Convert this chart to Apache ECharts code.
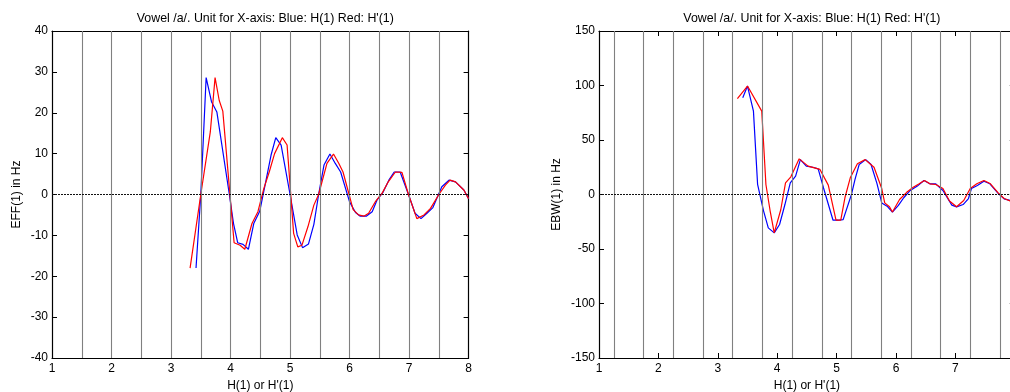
<!DOCTYPE html>
<html>
<head>
<meta charset="utf-8">
<script src="https://cdn.jsdelivr.net/npm/echarts@6/dist/echarts.min.js"></script>
<style>
  html, body { margin: 0; padding: 0; background: #fff; }
  #chart { width: 1010px; height: 392px; }
</style>
</head>
<body>
<div id="chart"></div>
<script>
// x ticks and grid positions
const xTicks = [1, 2, 3, 4, 5, 6, 7, 8]
const effGridX = [1.5, 2, 2.5, 3, 3.5, 4, 4.5, 5, 5.5, 6, 6.5, 7, 7.5]
const ebwGridX = [1.25, 1.75, 2.25, 2.75, 3.25, 3.75, 4.25, 4.75, 5.25, 5.75, 6.25, 6.75, 7.25, 7.75]

// left panel: EFF(1)
const effBlueX = [3.42, 3.50, 3.59, 3.68, 3.77, 3.98, 4.05, 4.12, 4.21, 4.30, 4.39, 4.49, 4.58, 4.68, 4.76, 4.85, 5.00, 5.12, 5.21, 5.31, 5.40, 5.48, 5.57, 5.67, 5.76, 5.85, 6.00, 6.10, 6.18, 6.28, 6.38, 6.46, 6.56, 6.66, 6.75, 6.85, 6.99, 7.10, 7.20, 7.30, 7.40, 7.55, 7.67, 7.78, 7.92, 8.00]
const effBlueY = [-18, 0, 28.6, 22.7, 20.2, 0, -7.1, -11.8, -12.2, -13.4, -7.1, -4.1, 2.3, 9.6, 13.9, 12.1, 0, -9.9, -13, -12.1, -7.3, 0, 7.2, 9.9, 7.6, 5.5, -1.8, -4.4, -5.3, -5.3, -4.2, -1.4, 0.5, 3.5, 5.5, 5.5, 0, -4.6, -5.9, -4.6, -3.2, 1.9, 3.5, 3.1, 1.1, -1]
const effRedX = [3.32, 3.50, 3.66, 3.74, 3.81, 3.87, 3.99, 4.06, 4.16, 4.24, 4.36, 4.46, 4.56, 4.65, 4.74, 4.87, 4.95, 5.06, 5.13, 5.20, 5.30, 5.40, 5.48, 5.62, 5.73, 5.82, 5.89, 6.06, 6.15, 6.24, 6.32, 6.44, 6.55, 6.65, 6.77, 6.88, 6.99, 7.13, 7.25, 7.36, 7.50, 7.61, 7.69, 7.78, 7.92, 8.00]
const effRedY = [-18, 0, 15.3, 28.6, 23, 20.4, 0, -11.8, -12.4, -13.4, -7.1, -4.2, 1.5, 5.5, 10, 13.9, 12.1, -9.5, -12.8, -12.4, -7.9, -2.6, 0, 7.6, 9.9, 7.6, 5.5, -3.7, -5, -5.3, -4.6, -1.6, 0.4, 3.1, 5.5, 5.4, 0, -5.9, -5, -3.4, 0, 2.3, 3.5, 3.1, 1.1, -1]

// right panel: EBW(1)
const ebwBlueX = [3.42, 3.50, 3.60, 3.67, 3.77, 3.85, 3.95, 4.04, 4.13, 4.22, 4.31, 4.39, 4.49, 4.60, 4.69, 4.78, 4.94, 5.03, 5.11, 5.25, 5.31, 5.38, 5.49, 5.58, 5.68, 5.76, 5.85, 5.94, 6.04, 6.13, 6.24, 6.36, 6.47, 6.57, 6.67, 6.79, 6.94, 7.02, 7.13, 7.22, 7.27, 7.37, 7.48, 7.58, 7.72, 7.82, 7.92, 8.00]
const ebwBlueY = [88.8, 99.5, 76.5, 9.2, -15, -30.6, -35.2, -27.5, -9.2, 10.7, 16.8, 32, 26, 25, 23.5, 6, -23.6, -23.6, -23, 0, 13.8, 27.5, 32, 27.5, 10, -7.7, -10.7, -16.2, -10, -3, 3.7, 7.7, 12.9, 9.8, 9.8, 3.7, -9.8, -11.3, -9.2, -3.7, 5.5, 8.3, 12.2, 9.8, 1, -4, -5.5, -5.8]
const ebwRedX = [3.33, 3.50, 3.74, 3.81, 3.88, 3.95, 4.06, 4.14, 4.23, 4.37, 4.52, 4.72, 4.86, 4.99, 5.07, 5.14, 5.23, 5.35, 5.48, 5.63, 5.76, 5.81, 5.89, 5.94, 6.06, 6.18, 6.29, 6.39, 6.48, 6.57, 6.67, 6.79, 6.90, 7.02, 7.14, 7.25, 7.36, 7.48, 7.59, 7.72, 7.82, 7.92, 8.00]
const ebwRedY = [88, 99.5, 76.5, 9.2, -14.7, -35.2, -14, 10.7, 16.2, 32.7, 26, 23, 8.6, -23.6, -23.6, -3, 15.3, 28.2, 32, 25, 5.5, -7.7, -11.3, -16, -4.6, 2, 6.7, 9.8, 12.9, 9.8, 9.2, 5.5, -6, -11.3, -5.5, 5.5, 9.8, 12.9, 9.8, 1.5, -3.7, -6, -6.2]

const titleText = "Vowel /a/. Unit for X-axis: Blue: H(1) Red: H'(1)"
const xName = "H(1) or H'(1)"
const font = "Liberation Sans, Arial, sans-serif"

const zip = (xs, ys) => xs.map((x, i) => [x, ys[i]])

const panels = [
  { left: 52, width: 416.6, yMin: -40, yMax: 40, yStep: 10, yName: "EFF(1) in Hz", nameGap: 29,
    gridX: effGridX, blue: zip(effBlueX, effBlueY), red: zip(effRedX, effRedY) },
  { left: 599, width: 415.8, yMin: -150, yMax: 150, yStep: 50, yName: "EBW(1) in Hz", nameGap: 36,
    gridX: ebwGridX, blue: zip(ebwBlueX, ebwBlueY), red: zip(ebwRedX, ebwRedY) }
]

const axisLine = { show: true, onZero: false, lineStyle: { color: "#000", width: 1.2 } }
const tickIn = { show: true, inside: true, length: 5, lineStyle: { color: "#000" } }
const labelStyle = { color: "#000", fontSize: 12, fontFamily: font }
const nameStyle = { color: "#000", fontSize: 12, fontFamily: font }

const grid = [], xAxis = [], yAxis = [], series = [], title = []

panels.forEach((p, i) => {
  grid.push({ left: p.left, width: p.width, top: 31, height: 327, containLabel: false, outerBoundsMode: "none" })
  title.push({
    text: titleText, left: p.left + p.width / 2, top: 8, textAlign: "center",
    textStyle: { color: "#000", fontSize: 12.4, fontWeight: "normal", fontFamily: font }
  })
  xAxis.push({
    type: "value", gridIndex: i, min: 1, max: 8, interval: 1, position: "bottom",
    axisLine, axisTick: tickIn, splitLine: { show: false },
    axisLabel: { ...labelStyle, margin: 5 },
    name: xName, nameLocation: "middle", nameGap: 21, nameTextStyle: nameStyle
  })
  xAxis.push({
    type: "value", gridIndex: i, min: 1, max: 8, interval: 1, position: "top",
    axisLine, axisTick: tickIn, splitLine: { show: false }, axisLabel: { show: false }
  })
  yAxis.push({
    type: "value", gridIndex: i, min: p.yMin, max: p.yMax, interval: p.yStep, position: "left",
    axisLine, axisTick: tickIn, splitLine: { show: false },
    axisLabel: { ...labelStyle, margin: 4 },
    name: p.yName, nameLocation: "middle", nameGap: p.nameGap, nameRotate: 90, nameTextStyle: nameStyle
  })
  yAxis.push({
    type: "value", gridIndex: i, min: p.yMin, max: p.yMax, interval: p.yStep, position: "right",
    axisLine, axisTick: tickIn, splitLine: { show: false }, axisLabel: { show: false }
  })
  series.push({
    type: "line", xAxisIndex: i * 2, yAxisIndex: i * 2, data: p.blue,
    showSymbol: false, lineStyle: { color: "#0000ff", width: 1.2 }, z: 3,
    markLine: {
      silent: true, symbol: ["none", "none"], label: { show: false },
      animation: false,
      data: p.gridX.map(v => ({ xAxis: v, lineStyle: { color: "#808080", type: "solid", width: 1.1 } }))
        .concat([{ yAxis: 0, lineStyle: { color: "#111", type: [2, 1], width: 1 } }])
    }
  })
  series.push({
    type: "line", xAxisIndex: i * 2, yAxisIndex: i * 2, data: p.red,
    showSymbol: false, lineStyle: { color: "#ff0000", width: 1.2 }, z: 4
  })
})

const chart = echarts.init(document.getElementById("chart"))
chart.setOption({ backgroundColor: "#fff", animation: false, title, grid, xAxis, yAxis, series })
</script>
</body>
</html>
